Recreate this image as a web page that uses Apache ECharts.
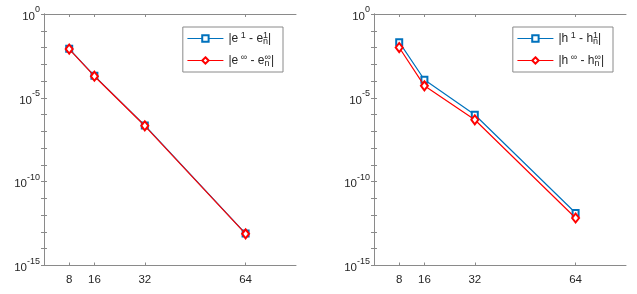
<!DOCTYPE html>
<html><head><meta charset="utf-8">
<script src="https://cdn.jsdelivr.net/npm/echarts@6/dist/echarts.min.js"></script>
<style>html,body{margin:0;padding:0;background:#fff}#c{width:637px;height:294px}</style>
</head><body><div id="c"></div>
<script>
// ---- data ----
const nValues = [8, 16, 32, 64];
const xTickLabels = [8, 16, 32, 64];
const yTickValues = [1, 1e-1, 1e-2, 1e-3, 1e-4, 1e-5, 1e-6, 1e-7, 1e-8, 1e-9, 1e-10, 1e-11, 1e-12, 1e-13, 1e-14, 1e-15];
const yLabelValues = [1, 1e-5, 1e-10, 1e-15];
const e1Err = [8.4e-3, 2.05e-4, 2.25e-7, 8.0e-14];
const eInfErr = [8.1e-3, 1.95e-4, 2.15e-7, 7.7e-14];
const h1Err = [2.1e-2, 1.2e-4, 9.8e-7, 1.35e-12];
const hInfErr = [1.0e-2, 5.2e-5, 4.9e-7, 6.8e-13];

const BLUE = '#0072BD', RED = '#FF0000', AX = '#8a8a8a', TXT = '#262626';
const FONT = 'Liberation Sans';

const legendText = {
  e1: '{t|\u007Ce}{sp| 1}{t| - e}{sb|n}{sp|1}{t|\u007C}',
  einf: '{t|\u007Ce}{sp| \u221E}{t| - e}{sb|n}{sp|\u221E}{t|\u007C}',
  h1: '{t|\u007Ch}{sp| 1}{t| - h}{sb|n}{sp|1}{t|\u007C}',
  hinf: '{t|\u007Ch}{sp| \u221E}{t| - h}{sb|n}{sp|\u221E}{t|\u007C}'
};
const legendRich = {
  t: {fontSize: 12, fontFamily: FONT, color: TXT, lineHeight: 15},
  sp: {fontSize: 9, fontFamily: FONT, color: TXT, lineHeight: 8, verticalAlign: 'top'},
  sb: {fontSize: 9, fontFamily: FONT, color: TXT, lineHeight: 8, verticalAlign: 'bottom', width: 0}
};

function xAxes(g) {
  const tick = {inside: true, length: 3, lineStyle: {color: AX, width: 1}, customValues: nValues};
  return [
    {type: 'value', gridIndex: g, min: 0, max: 80, position: 'bottom',
     axisLine: {lineStyle: {color: AX, width: 1}}, axisTick: tick,
     axisLabel: {customValues: xTickLabels, fontSize: 11.5, fontFamily: FONT, color: TXT, margin: 8},
     splitLine: {show: false}},
    {type: 'value', gridIndex: g, min: 0, max: 80, position: 'top',
     axisLine: {lineStyle: {color: AX, width: 1}}, axisTick: tick,
     axisLabel: {show: false}, splitLine: {show: false}}
  ];
}
function yAxes(g) {
  const tick = {inside: true, length: 3, lineStyle: {color: AX, width: 1}, customValues: yTickValues};
  return [
    {type: 'log', logBase: 10, gridIndex: g, min: 1e-15, max: 1, position: 'left',
     axisLine: {show: true, lineStyle: {color: AX, width: 1}}, axisTick: tick,
     axisLabel: {customValues: yLabelValues, margin: 4,
       formatter: v => '{b|10}{s|' + Math.round(Math.log10(v)) + '}',
       rich: {
         b: {fontSize: 11.5, fontFamily: FONT, color: TXT, padding: [5, 0, 0, 0]},
         s: {fontSize: 9, fontFamily: FONT, color: TXT, verticalAlign: 'top', lineHeight: 8}
       }},
     splitLine: {show: false}, minorTick: {show: false}},
    {type: 'log', logBase: 10, gridIndex: g, min: 1e-15, max: 1, position: 'right',
     axisLine: {show: true, lineStyle: {color: AX, width: 1}}, axisTick: tick,
     axisLabel: {show: false}, splitLine: {show: false}, minorTick: {show: false}}
  ];
}
function mkSeries(name, vals, color, symbol, size, xi, yi) {
  return {
    name, type: 'line', xAxisIndex: xi, yAxisIndex: yi,
    data: nValues.map((n, i) => [n, vals[i]]),
    symbol, symbolSize: size, showSymbol: true,
    lineStyle: {color, width: 1.2},
    itemStyle: {color: color, borderColor: color, borderWidth: 1.2},
    emphasis: {disabled: true}, animation: false, z: color === RED ? 3 : 2
  };
}
function mkLegend(names, right) {
  return {
    data: names, orient: 'vertical', right, top: 27,
    borderColor: AX, borderWidth: 1, borderRadius: 0, backgroundColor: '#fff',
    padding: [4, 9, 4, 4], itemGap: 7, itemWidth: 36, itemHeight: 8,
    selectedMode: false,
    lineStyle: {width: 1.2},
    itemStyle: {borderWidth: 1.2},
    formatter: name => legendText[name],
    textStyle: {rich: legendRich}
  };
}

const chart = echarts.init(document.getElementById('c'), null, {renderer: 'canvas'});
chart.setOption({
  animation: false,
  backgroundColor: '#fff',
  grid: [
    {left: 44, top: 14, width: 252, height: 251.5},
    {left: 374, top: 14, width: 252, height: 251.5}
  ],
  xAxis: [...xAxes(0), ...xAxes(1)],
  yAxis: [...yAxes(0), ...yAxes(1)],
  legend: [mkLegend(['e1', 'einf'], 354), mkLegend(['h1', 'hinf'], 24)],
  series: [
    mkSeries('e1', e1Err, BLUE, 'emptyRect', 6, 0, 0),
    mkSeries('einf', eInfErr, RED, 'emptyDiamond', [7, 9], 0, 0),
    mkSeries('h1', h1Err, BLUE, 'emptyRect', 6, 2, 2),
    mkSeries('hinf', hInfErr, RED, 'emptyDiamond', [7, 9], 2, 2)
  ]
});
</script></body></html>
